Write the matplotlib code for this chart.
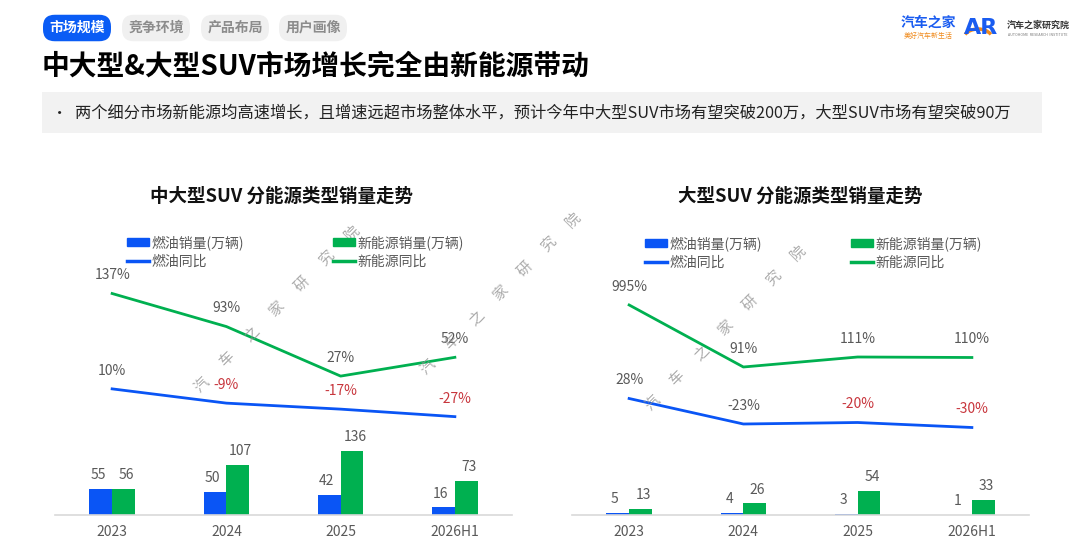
import numpy as np
import matplotlib
matplotlib.use('Agg')
from matplotlib import pyplot as plt
from matplotlib.patches import Rectangle, Patch, Arc
from matplotlib.lines import Line2D

plt.rcParams['font.family'] = ['Noto Sans CJK SC', 'DejaVu Sans']

years = ['2023', '2024', '2025', '2026H1']

# 中大型SUV
mid_fuel = [55, 50, 42, 16]
mid_nev = [56, 107, 136, 73]
mid_fuel_yoy = [10, -9, -17, -27]
mid_nev_yoy = [137, 93, 27, 52]

# 大型SUV
big_fuel = [5, 4, 3, 1]
big_nev = [13, 26, 54, 33]
big_fuel_yoy = [28, -23, -20, -30]
big_nev_yoy = [995, 91, 111, 110]

BLUE = '#0a55f5'
GREEN = '#00b050'
GREY = '#595959'
RED = '#c8363d'

W, H = 1080, 557
fig = plt.figure(figsize=(W / 100, H / 100), dpi=100)


def fx(px):
    return px / W


def fy(py):
    return 1 - py / H


# tabs
tabs = ['市场规模', '竞争环境', '产品布局', '用户画像']
tab_x = [77, 156, 235, 313]
for i, (t, x) in enumerate(zip(tabs, tab_x)):
    if i == 0:
        fc, tc = '#0a5cf5', 'white'
    else:
        fc, tc = '#f0f0f0', '#8c8c8c'
    fig.text(fx(x), fy(28), t, ha='center', va='center', fontsize=10,
             fontweight='bold', color=tc,
             bbox=dict(boxstyle='round,pad=0.45,rounding_size=0.85', fc=fc, ec='none'))

# logos
fig.text(fx(928), fy(23), '汽车之家', ha='center', va='center', fontsize=10,
         fontweight='bold', color='#1a5cf0')
fig.text(fx(928), fy(36), '美好汽车新生活', ha='center', va='center', fontsize=5,
         color='#f08a1c', style='italic')
fig.text(fx(981), fy(28), 'AR', ha='center', va='center', fontsize=16,
         fontweight='bold', color='#1a5cf0', family='DejaVu Sans')
fig.patches.append(Arc((fx(978), fy(40)), fx(30), 22 / H, theta1=40, theta2=140,
                       transform=fig.transFigure, color='#f08a1c', lw=2.5))
fig.text(fx(1038), fy(25), '汽车之家研究院', ha='center', va='center', fontsize=6.5,
         fontweight='bold', color='#333333')
fig.text(fx(1038), fy(35), 'AUTOHOME  RESEARCH  INSTITUTE', ha='center', va='center',
         fontsize=2.6, color='#777777')

# title
fig.text(fx(42), fy(67), '中大型&大型SUV市场增长完全由新能源带动', ha='left', va='center',
         fontsize=20, fontweight='bold', color='black')

# summary box
fig.patches.append(Rectangle((fx(42), fy(133)), fx(1000), (133 - 92) / H,
                             transform=fig.transFigure, fc='#f2f2f2', ec='none'))
fig.text(fx(52), fy(113), '•', ha='left', va='center', fontsize=11, color='#222222')
fig.text(fx(75), fy(113),
         '两个细分市场新能源均高速增长，且增速远超市场整体水平，预计今年中大型SUV市场有望突破200万，大型SUV市场有望突破90万',
         ha='left', va='center', fontsize=11.7, color='#222222')


def fwd(v):
    v = np.asarray(v, dtype=float)
    return np.where(v <= 150, v, 150 + (v - 150) * 0.077)


def inv(u):
    u = np.asarray(u, dtype=float)
    return np.where(u <= 150, u, 150 + (u - 150) / 0.077)


def draw_chart(left, title, title_x, fuel, nev, fuel_yoy, nev_yoy, bar_top,
               line_lim, compress, leg_x, leg_y, red_from):
    ax = fig.add_axes([fx(left), fy(515), fx(457), 235 / H])
    x = np.arange(len(years))
    ax.bar(x - 0.1, fuel, width=0.2, color=BLUE)
    ax.bar(x + 0.1, nev, width=0.2, color=GREEN)
    for xi, v in zip(x, fuel):
        ax.annotate(str(v), (xi - 0.1, v), xytext=(-2, 5), textcoords='offset points',
                    ha='center', va='bottom', fontsize=10, color=GREY)
    for xi, v in zip(x, nev):
        ax.annotate(str(v), (xi + 0.1, v), xytext=(2, 5), textcoords='offset points',
                    ha='center', va='bottom', fontsize=10, color=GREY)
    ax.set_xlim(-0.5, len(years) - 0.5)
    ax.set_ylim(0, bar_top)
    ax.set_xticks(x)
    ax.set_xticklabels(years, fontsize=10, color=GREY)
    ax.tick_params(axis='x', length=0, pad=7)
    ax.set_yticks([])
    for s in ['left', 'right', 'top']:
        ax.spines[s].set_visible(False)
    ax.spines['bottom'].set_color('#d9d9d9')
    ax.spines['bottom'].set_linewidth(1.2)

    ax2 = ax.twinx()
    if compress:
        ax2.set_yscale('function', functions=(fwd, inv))
    ax2.plot(x, fuel_yoy, color=BLUE, lw=2)
    ax2.plot(x, nev_yoy, color=GREEN, lw=2)
    ax2.set_ylim(*line_lim)
    ax2.set_yticks([])
    ax2.minorticks_off()
    for s in ax2.spines.values():
        s.set_visible(False)
    for i, (xi, v) in enumerate(zip(x, fuel_yoy)):
        c = RED if (v < 0 and i >= red_from) else GREY
        ax2.annotate(f'{v}%', (xi, v), xytext=(0, 13), textcoords='offset points',
                     ha='center', va='center', fontsize=10, color=c)
    for xi, v in zip(x, nev_yoy):
        ax2.annotate(f'{v}%', (xi, v), xytext=(0, 13), textcoords='offset points',
                     ha='center', va='center', fontsize=10, color=GREY)

    fig.text(fx(title_x), fy(196), title, ha='center', va='center', fontsize=13.3,
             fontweight='bold', color='#111111')

    h_bar_f = Patch(color=BLUE)
    h_line_f = Line2D([], [], color=BLUE, lw=2.5)
    h_bar_n = Patch(color=GREEN)
    h_line_n = Line2D([], [], color=GREEN, lw=2.5)
    kw = dict(loc='upper left', frameon=False, fontsize=10, handlelength=1.6,
              handleheight=0.6, handletextpad=0.15, labelspacing=0.35, borderpad=0,
              borderaxespad=0, labelcolor=GREY)
    fig.legend([h_bar_f, h_line_f], ['燃油销量(万辆)', '燃油同比'],
               bbox_to_anchor=(fx(leg_x[0]), fy(leg_y)), **kw)
    fig.legend([h_bar_n, h_line_n], ['新能源销量(万辆)', '新能源同比'],
               bbox_to_anchor=(fx(leg_x[1]), fy(leg_y)), **kw)


draw_chart(55, '中大型SUV 分能源类型销量走势', 282, mid_fuel, mid_nev, mid_fuel_yoy,
           mid_nev_yoy, 500, (-158, 155), False, (127, 333), 235, 0)
draw_chart(572, '大型SUV 分能源类型销量走势', 800, big_fuel, big_nev, big_fuel_yoy,
           big_nev_yoy, 530, (-205, float(inv(265))), True, (645, 851), 236, 2)

# watermark
mark = '汽车之家研究院'
for (sx, sy, dx, dy) in [(202, 385, 25, -25.3), (428, 367, 24.2, -24.5),
                         (653, 403, 24.2, -25)]:
    for k, ch in enumerate(mark):
        fig.text(fx(sx + k * dx), fy(sy + k * dy), ch, ha='center', va='center',
                 fontsize=10.5, color='#8f8f8f', alpha=0.75, rotation=45)

fig.savefig('out.png', dpi=100)
